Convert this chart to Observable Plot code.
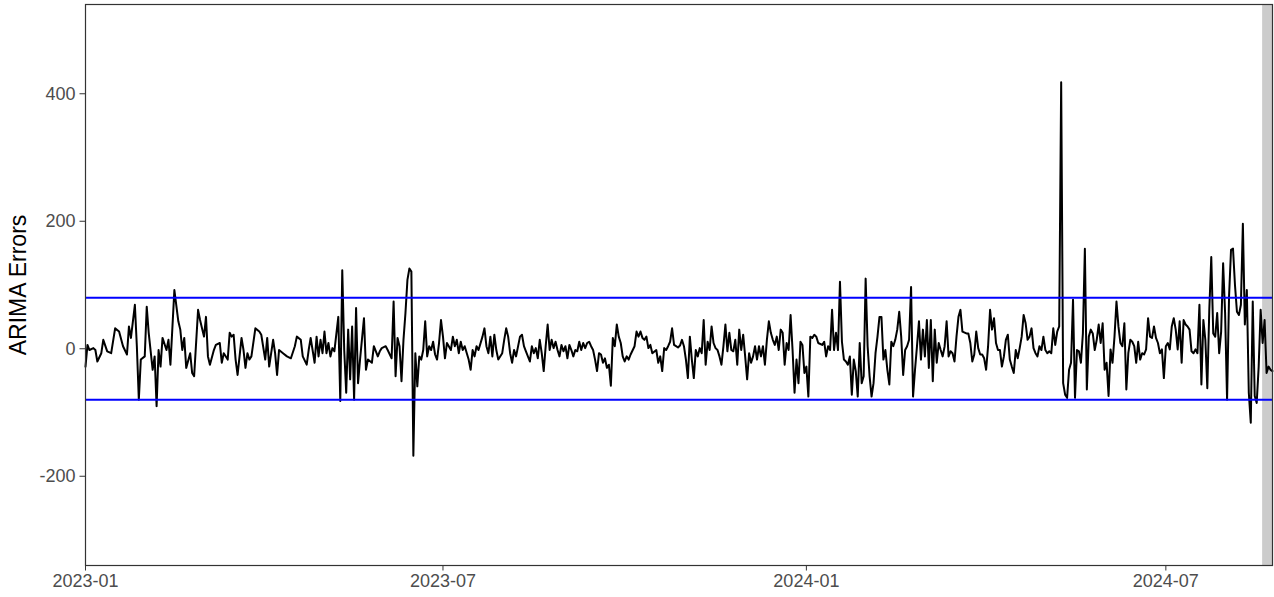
<!DOCTYPE html>
<html>
<head>
<meta charset="utf-8">
<script src="https://cdn.jsdelivr.net/npm/d3@7"></script>
<script src="https://cdn.jsdelivr.net/npm/@observablehq/plot@0.6"></script>
<style>
  html, body { margin: 0; padding: 0; background: #ffffff; }
  svg { display: block; }
</style>
</head>
<body>
<div id="chart"></div>
<script>
// ---- Data (daily ARIMA errors, day index counted from startDate) ----
const startDate = "2023-01-01";
const endDate = "2024-08-24";
const shadeStart = "2024-08-19";
const shadeEnd = "2024-08-24";
const bounds = [80, -80];
const yTicks = [-200, 0, 200, 400];
const xTickLabels = ["2023-01", "2023-07", "2024-01", "2024-07"];
const yTitle = "ARIMA Errors";

const daysA = [0,1,2,4,5,6,8,9,11,13, 15,17,19,21,22,23,25,26,27,28, 30,31,32,34,35,36,37,38,39,41, 42,43,45,47,48,49,50,51,53,54, 55,57,58,60,61,62,63,65,66,68, 69,70,72,73,74,75];
const errA  = [-28,6,-2,1,-2,-20,-7,14,-4,-7, 32,27,4,-9,35,17,69,4,-80,-17, -12,66,25,-33,-12,-90,-2,-28,17,-2, 14,-25,92,43,30,-2,17,-30,-7,-38, -43,61,45,19,50,-12,-25,-2,6,9, -22,-7,-17,25,19,22];

const daysB = [76,77,79,80,81,82,83,84,86,88, 89,91,92,93,95,96,97,98,100,102, 104,106,107,109,110,112,113,114,116,117, 118,119,120,121,122,123,124,125,126,128, 129,130,131,132,133,134,135,136,137,138, 139,141,142,143,145,146,148];
const errB  = [-17,-41,17,-2,-30,-7,-17,-12,32,27, 22,-17,17,-28,14,-7,-41,-2,-7,-12, -15,4,19,14,-12,-25,-2,17,-22,19, -12,14,-7,27,-7,9,-12,1,-4,50, -82,123,-2,-69,30,-48,35,-80,64,-54, -17,48,-33,-17,-22,4,-12];

const daysC = [149,150,152,153,155,156,157,158,159,160, 161,162,163,164,165,166,167,168,169,170, 171,172,173,174,175,176,177,178,179,180, 181,182,183,185,186,187,188,189,190,191, 192,194,195,196,197,198,199,201,202,203, 204,205,206,207,208,209,211,212,213,214, 215,216,217,218,220,221,222,223];
const errC  = [-4,1,4,-2,-15,74,-43,17,4,-51, 14,56,108,126,121,-168,-7,-59,-12,-17, -2,43,-12,4,-2,11,-9,-17,9,45, 19,-15,9,-2,19,4,14,-7,11,-2, 4,-17,-33,-2,-12,4,-2,19,32,4, -7,19,-12,22,-2,-17,-7,14,32,19, -7,-22,-2,-12,19,22,4,-4];

const daysD = [225,226,227,228,229,230,231,232,233,234, 235,236,237,238,239,240,241,242,243,244, 245,246,247,248,249,250,251,252,253,254, 255,256,257,258,259,260,261,262,263,264, 265,266,267,268,269,270,271,272,273,274, 275,276,278,279,280,281,282,283,284,285, 286,287,289,290,291,292,293,294,295,296];
const errD  = [-20,4,-7,1,-15,14,-7,-35,4,38, -2,14,1,11,-2,-12,6,-4,4,-15, 6,-2,-12,-2,-4,11,-2,9,1,9, 11,4,-2,-17,-35,-7,-9,-22,-15,-30, -25,-58,17,4,38,19,9,-12,-20,-12, -17,-9,4,27,19,27,17,14,19,1, 6,-7,-2,-22,-12,-35,1,-2,4,11];

const daysE = d3.range(297, 371);
const errE  = [32,6,4,2,5,14,4,-17,-46,19, -17,-46,-2,-12,1,-7,45,-25,11,-2, 35,9,1,-2,-12,-25,4,38,-4,25, -2,-4,14,-25,30,-2,22,-12,-48,-7, -22,-12,4,-17,4,-12,4,-25,14,43, 25,14,6,19,-2,30,25,-25,9,-2, 53,-2,-69,-17,-54,11,6,-38,-28,-75, 19,17,22,19];

const daysF = [371, ...d3.range(373, 444)];
const errF  = [9, 6,11,-12,4,-2,61,-2,25,-2,105, 11,-17,-20,-25,-12,-72,-17,-35,-75,9, -54,-43,110,4,-43,-75,-54,-7,19,50, 50,-17,-2,-33,-56,11,4,14,30,58, 19,-41,-2,4,14,97,-75,-33,4,43, -17,30,-12,45,-30,45,-51,30,-22,9, -2,-12,4,43,-12,-4,-7,-20,19,50, 61];

const daysG = [444, ...d3.range(446, 516)];
const errG  = [27, 24,24,9,-20,-9,27,1,-9,-9,-15, -33,4,61,30,48,9,-2,-2,-28,-12, 14,22,-17,-28,-38,-2,-15,1,19,53, 40,14,19,32,1,-7,-12,4,-2,19, -2,-7,-4,-7,32,6,27,35,418,-54, -72,-77,-33,-22,77,-77,-2,-4,-22,24, 157,-64,19,30,24,-2,14,38,9,40];

const daysH = d3.range(516, 602);
const errH  = [-33,-22,-74,-1,-22,19,74,35,9,4, 40,-64,-7,14,11,4,-22,11,-17,-7, -9,-1,48,19,17,35,17,9,-7,-1, -46,4,9,-1,35,48,30,-1,43,-22, 45,38,35,30,-4,-7,-1,-7,69,-56, 45,14,-62,61,144,24,19,56,-7,27, 134,56,-80,82,155,157,100,58,53,69, 196,38,92,-69,-116,74,-74,-85,-28,61, 9,45,-38,-28,-33,-35];

// ---- Build table ----
const parse = d3.utcParse("%Y-%m-%d");
const t0 = parse(startDate);
const segments = [[daysA, errA], [daysB, errB], [daysC, errC], [daysD, errD], [daysE, errE], [daysF, errF], [daysG, errG], [daysH, errH]];
const series = [];
segments.forEach(([days, errs], i) => {
  if (days.length !== errs.length) console.error("segment", i, "length mismatch", days.length, errs.length);
  days.forEach((d, j) => {
    if (errs[j] !== undefined) series.push({date: d3.utcDay.offset(t0, d), value: errs[j]});
  });
});
const shade = [{x1: parse(shadeStart), x2: parse(shadeEnd)}];
const xTicks = xTickLabels.map(s => d3.utcParse("%Y-%m")(s));

const chart = Plot.plot({
  width: 1274,
  height: 597,
  marginLeft: 85,
  marginRight: 2,
  marginTop: 4,
  marginBottom: 32,
  style: {fontFamily: "'Liberation Sans', Arial, Helvetica, sans-serif", background: "#ffffff", overflow: "visible"},
  x: {type: "utc", domain: [t0, parse(endDate)]},
  y: {domain: [-340, 540]},
  marks: [
    Plot.rect(shade, {x1: "x1", x2: "x2", fill: "#cccccc"}),
    Plot.line(series, {x: "date", y: "value", stroke: "#000000", strokeWidth: 2}),
    Plot.ruleY(bounds, {stroke: "#0000ff", strokeWidth: 2}),
    Plot.frame({stroke: "#333333", strokeWidth: 1.2}),
    Plot.axisY({ticks: yTicks, tickFormat: d => String(d), tickSize: 5.5, tickPadding: 4.5, fontSize: 18, fill: "#4d4d4d", stroke: "#333333", label: null}),
    Plot.axisX({ticks: xTicks, tickFormat: d3.utcFormat("%Y-%m"), tickSize: 5.5, tickPadding: 3, fontSize: 18, fill: "#4d4d4d", stroke: "#333333", label: null}),
    Plot.text([yTitle], {text: d => d, frameAnchor: "left", textAnchor: "middle", lineAnchor: "middle", dx: -67, rotate: -90, fontSize: 23, fill: "#000000"})
  ]
});
document.getElementById("chart").appendChild(chart);
</script>
</body>
</html>
